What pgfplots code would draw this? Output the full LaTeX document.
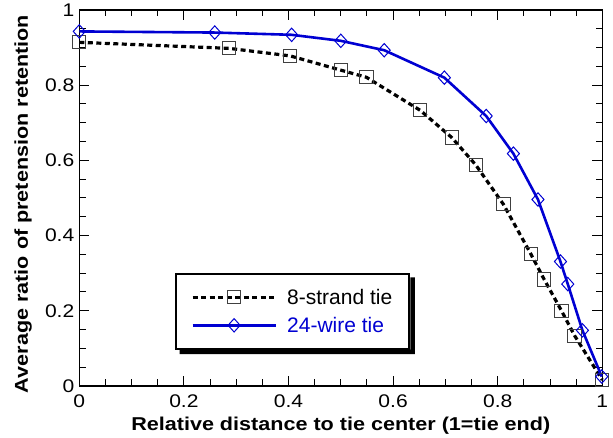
\documentclass[border=0pt]{standalone}
\usepackage{fontspec}
\usepackage{pgfplots}
\pgfplotsset{compat=1.18}
\setmainfont{Liberation Sans}
\newfontfamily\tickfont{Liberation Sans}[FakeStretch=1.15]
\newfontfamily\labfont{Liberation Sans}[FakeStretch=1.16]
\definecolor{wireblue}{RGB}{0,0,210}

\begin{document}
\begin{tikzpicture}
\begin{axis}[
    name=ax,
    scale only axis,
    width=523pt, height=376pt,
    xmin=0, xmax=1, ymin=0, ymax=1,
    xtick={0,0.2,0.4,0.6,0.8,1},
    ytick={0,0.2,0.4,0.6,0.8,1},
    minor x tick num=3,
    minor y tick num=3,
    xtick pos=both, ytick pos=both,
    ticklabel pos=left,
    tick align=inside,
    major tick length=10pt,
    minor tick length=6.5pt,
    tick style={black, line width=1pt},
    axis line style={line width=1.5pt},
    /pgf/number format/assume math mode=true,
    tick label style={font=\tickfont\fontsize{18.3}{20}\selectfont},
    xticklabel style={yshift=-5pt},
    yticklabel style={xshift=-1.5pt},
    label style={font=\labfont\bfseries\fontsize{18.6}{21}\selectfont},
    xlabel={Relative distance to tie center (1=tie end)},
    ylabel={Average ratio of pretension retention},
    xlabel style={at={(axis description cs:0.5,-0.1189)}, anchor=base},
    ylabel style={at={(axis description cs:-0.0985,0.484)}, anchor=base},
    clip=false,
    legend style={
        name=leg,
        at={(axis description cs:0.183,0.301)}, anchor=north west,
        draw=black, line width=2pt, fill=white,
        inner xsep=15pt, inner ysep=13pt, row sep=7.4pt,
        column sep=8pt,
        font=\fontsize{21}{24}\selectfont,
        nodes={inner sep=2pt},
    },
    legend cell align=left,
    legend image code/.code={\draw[mark repeat=2,mark phase=2] plot coordinates {(0pt,0pt) (41.5pt,0pt) (83pt,0pt)};},
]
\addplot[black, line width=3.2pt, dash pattern=on 5pt off 3.5pt,
    mark=square, mark size=6.6pt,
    mark options={solid, draw=black!75, line width=1pt}]
    coordinates {(0,0.914)(0.286,0.898)(0.403,0.878)(0.500,0.840)(0.549,0.821)
    (0.652,0.733)(0.712,0.661)(0.758,0.588)(0.811,0.483)(0.863,0.352)
    (0.889,0.283)(0.922,0.200)(0.947,0.134)(1.0,0.016)};
\addlegendentry{8-strand tie}
\addplot[wireblue, line width=2.6pt,
    mark=diamond, mark size=6.7pt,
    mark options={solid, draw=wireblue, line width=1pt, xscale=1.2}]
    coordinates {(0,0.943)(0.259,0.940)(0.406,0.934)(0.500,0.918)(0.583,0.893)
    (0.698,0.820)(0.778,0.718)(0.830,0.618)(0.877,0.496)(0.920,0.331)
    (0.934,0.271)(0.962,0.148)(0.999,0.025)};
\addlegendentry{\textcolor{wireblue}{24-wire tie}}
\end{axis}
% drop shadow of the legend box (right and bottom strips)
\fill[black] ([shift={(4.5pt,-4.5pt)}]leg.south west) -- ([shift={(4.5pt,-4.5pt)}]leg.south east)
    -- ([shift={(4.5pt,-4.5pt)}]leg.north east) -- ([shift={(0pt,-4.5pt)}]leg.north east)
    -- (leg.south east) -- ([shift={(4.5pt,0pt)}]leg.south west) -- cycle;
\path ([shift={(-79.3pt,-52pt)}]ax.south west) rectangle ([shift={(10.7pt,10pt)}]ax.north east);
\end{tikzpicture}
\end{document}
